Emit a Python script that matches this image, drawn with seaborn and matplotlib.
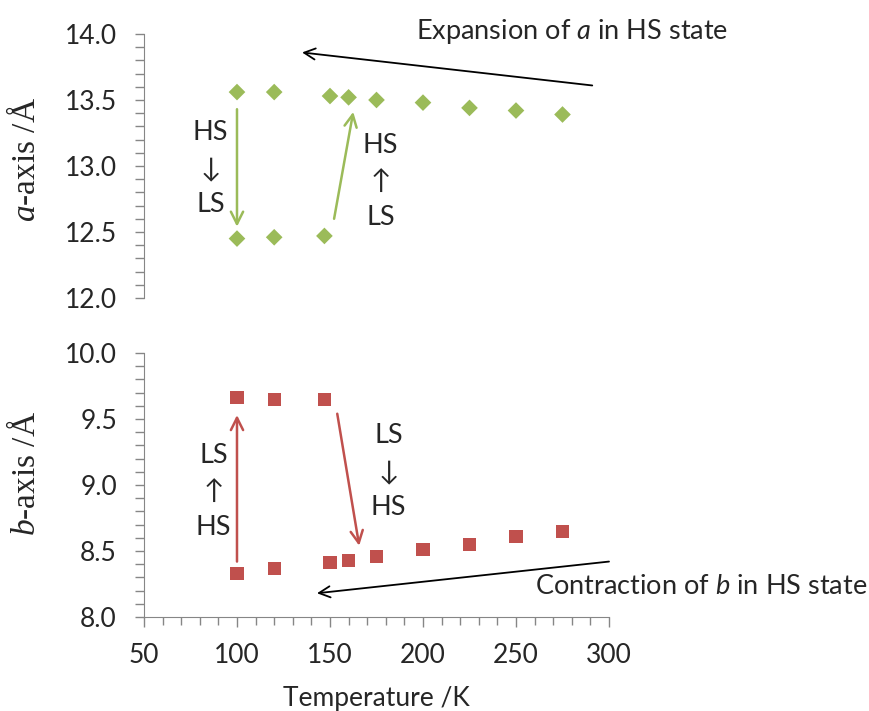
import pandas as pd
import matplotlib
matplotlib.use('Agg')
import matplotlib.pyplot as plt
import seaborn as sns
from matplotlib.ticker import MultipleLocator

# lattice parameter a (green diamonds)
temp_a_hs = [100, 120, 150, 160, 175, 200, 225, 250, 275]
a_hs = [13.56, 13.56, 13.53, 13.52, 13.50, 13.48, 13.44, 13.42, 13.39]
temp_a_ls = [100, 120, 147]
a_ls = [12.45, 12.46, 12.47]

# lattice parameter b (red squares)
temp_b_ls = [100, 120, 147]
b_ls = [9.66, 9.65, 9.65]
temp_b_hs = [100, 120, 150, 160, 175, 200, 225, 250, 275]
b_hs = [8.33, 8.37, 8.41, 8.43, 8.46, 8.51, 8.55, 8.61, 8.65]

green = '#9BBB59'
red = '#C0504D'
axis_grey = '#868686'

sns.set_style('ticks')
plt.rcParams['font.family'] = ['Lato', 'DejaVu Sans']
plt.rcParams['mathtext.fontset'] = 'custom'
plt.rcParams['mathtext.rm'] = 'Liberation Serif'
plt.rcParams['mathtext.it'] = 'Liberation Serif:italic'
plt.rcParams['mathtext.sf'] = 'Lato:italic'

df_a = pd.DataFrame({'T': temp_a_hs + temp_a_ls, 'a': a_hs + a_ls})
df_b = pd.DataFrame({'T': temp_b_ls + temp_b_hs, 'b': b_ls + b_hs})

fig = plt.figure(figsize=(8.69, 7.11), dpi=100)
ax1 = fig.add_axes([0.1657, 0.5809, 0.5351, 0.3713])
ax2 = fig.add_axes([0.1657, 0.1322, 0.5351, 0.3713])

sns.scatterplot(data=df_a, x='T', y='a', marker='D', s=72, color=green,
                edgecolor='none', ax=ax1, clip_on=False, zorder=3)
sns.scatterplot(data=df_b, x='T', y='b', marker='s', s=88, color=red,
                edgecolor='none', ax=ax2, clip_on=False, zorder=3)

for ax in (ax1, ax2):
    ax.set_xlim(50, 300)
    ax.yaxis.set_major_locator(MultipleLocator(0.5))
    ax.yaxis.set_minor_locator(MultipleLocator(0.1))
    ax.yaxis.set_major_formatter(matplotlib.ticker.FormatStrFormatter('%.1f'))
    ax.tick_params(axis='y', which='both', direction='out', length=6.5, width=1,
                   color=axis_grey, labelsize=19, pad=13)
    ax.spines['left'].set_color(axis_grey)
    ax.spines['bottom'].set_color(axis_grey)
    sns.despine(ax=ax)

ax1.set_ylim(12.0, 14.0)
ax2.set_ylim(8.0, 10.0)

ax1.spines['bottom'].set_visible(False)
ax1.tick_params(axis='x', which='both', bottom=False, labelbottom=False)
ax1.set_xlabel('')

ax2.xaxis.set_major_locator(MultipleLocator(50))
ax2.xaxis.set_minor_locator(MultipleLocator(10))
ax2.tick_params(axis='x', which='major', direction='out', length=7, width=1,
                color=axis_grey, labelsize=19, pad=12)
ax2.tick_params(axis='x', which='minor', direction='out', length=5.5, width=1,
                color=axis_grey)

ax1.set_ylabel('$a$-axis /Å', fontsize=24, family='Liberation Serif', va='center')
ax1.yaxis.set_label_coords(-0.254, 0.524)
ax2.set_ylabel('$b$-axis /Å', fontsize=24, family='Liberation Serif', va='center')
ax2.yaxis.set_label_coords(-0.254, 0.545)
ax2.set_xlabel('Temperature /K', fontsize=19, va='top')
ax2.xaxis.set_label_coords(0.5, -0.262)

# transition arrows
def arrow(ax, head, tail, color, lw, scale):
    ax.annotate('', xy=head, xytext=tail, annotation_clip=False,
                arrowprops=dict(arrowstyle='->', color=color, lw=lw,
                                mutation_scale=scale, shrinkA=0, shrinkB=0))

arrow(ax1, (100, 12.54), (100, 13.43), green, 1.8, 22)
arrow(ax1, (162.5, 13.41), (152.2, 12.60), green, 1.8, 22)
arrow(ax1, (135, 13.86), (291, 13.61), 'black', 1.3, 20)
arrow(ax2, (100, 9.53), (100, 8.42), red, 1.8, 22)
arrow(ax2, (165.7, 8.54), (153.9, 9.54), red, 1.8, 22)
arrow(ax2, (143, 8.18), (300, 8.42), 'black', 1.3, 20)

txt = dict(fontsize=19.5, ha='center', va='center', linespacing=1.55, clip_on=False)
ax1.text(85.7, 12.98, 'HS\n↓\nLS', **txt)
ax1.text(177.2, 12.886, 'HS\n↑\nLS', **txt)
ax2.text(87.3, 8.95, 'LS\n↑\nHS', **txt)
ax2.text(181.5, 9.10, 'LS\n↓\nHS', **txt)
ax1.text(280, 14.02, r'Expansion of $\mathsf{a}$ in HS state', fontsize=19.5,
         ha='center', va='center', clip_on=False)
ax2.text(349.5, 8.23, r'Contraction of $\mathsf{b}$ in HS state', fontsize=19.5,
         ha='center', va='center', clip_on=False)

fig.savefig('out.png', dpi=100)
